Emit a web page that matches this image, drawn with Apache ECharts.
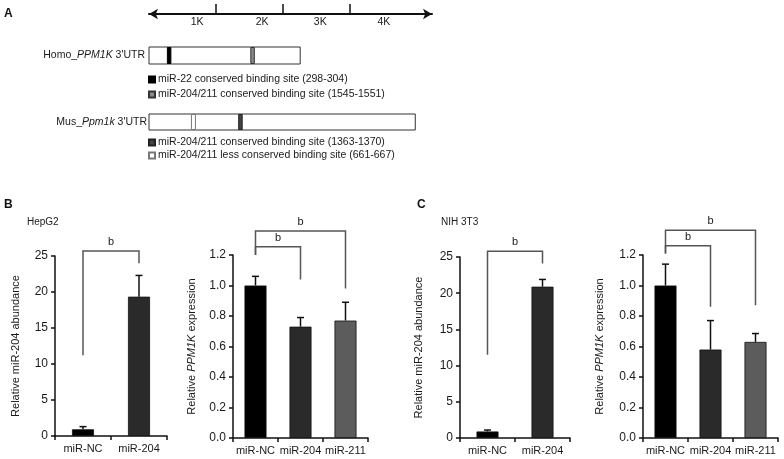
<!DOCTYPE html>
<html><head><meta charset="utf-8">
<script src="https://cdn.jsdelivr.net/npm/echarts@6/dist/echarts.min.js"></script>
<style>html,body{margin:0;padding:0;background:#fff}#c{width:784px;height:459px}</style>
</head><body><div id="c"></div>
<script>
// ---------- Panel A data ----------
const scaleMax = 4230;
const scaleTicks = [1000, 2000, 3000];
const scaleLabelPos = [720, 1690, 2560, 3510];
const scaleLabels = ['1K', '2K', '3K', '4K'];
const homoName = ["Homo_PPM1K 3'UTR"];
const homoGene = 'PPM1K';
const musName = ["Mus_Ppm1k 3'UTR"];
const musGene = 'Ppm1k';
const homoLen = 2260;
const musLen = 3980;
const homoSite22 = [298, 304];
const homoSite204 = [1545, 1551];
const musSite204 = [1363, 1370];
const musSiteLess = [661, 667];
const homoLegend = ['miR-22 conserved binding site (298-304)', 'miR-204/211 conserved binding site (1545-1551)'];
const musLegend = ['miR-204/211 conserved binding site (1363-1370)', 'miR-204/211 less conserved binding site (661-667)'];

// ---------- Panels B/C data ----------
const cats2 = ['miR-NC', 'miR-204'];
const cats3 = ['miR-NC', 'miR-204', 'miR-211'];
const hepAbund = [0.93, 19.35];
const hepAbundTop = [1.3, 22.3];
const hepExpr = [1.0, 0.73, 0.77];
const hepExprTop = [1.06, 0.79, 0.89];
const nihAbund = [0.9, 20.9];
const nihAbundTop = [1.1, 21.9];
const nihExpr = [1.0, 0.58, 0.63];
const nihExprTop = [1.14, 0.77, 0.685];
// brackets: [catFrom, catTo, topValue, legFromBottom, legToBottom]
const hepAbundBr = [[0, 1, 25.7, 11.2, 24.0]];
const hepExprBr = [[0, 2, 1.357, 1.2, 0.98], [0, 1, 1.254, 1.2, 1.04]];
const nihAbundBr = [[0, 1, 25.8, 11.5, 24.1]];
const nihExprBr = [[0, 2, 1.363, 1.21, 0.87], [0, 1, 1.26, 1.21, 0.86]];
const sigText = 'b';
const abundTicks = { min: 0, max: 25, interval: 5 };
const exprTicks = { min: 0, max: 1.2, interval: 0.2 };

const barColors = ['#000000', '#2a2a2a', '#5c5c5c'];
const FONT = 'Liberation Sans, Arial, sans-serif';
const TXT = '#1a1a1a';

function boxRender(params, api) {
  const p0 = api.coord([api.value(0), api.value(2)]);
  const p1 = api.coord([api.value(1), api.value(2)]);
  const h = api.size([0, 1])[1];
  return { type: 'rect', shape: { x: p0[0], y: p0[1] - h / 2, width: p1[0] - p0[0], height: h },
    style: { fill: '#fff', stroke: '#333', lineWidth: 1 } };
}
function siteRender(minW) {
  return function (params, api) {
    const a = api.coord([api.value(0), api.value(2)]);
    const b = api.coord([api.value(1), api.value(2)]);
    const h = api.size([0, 1])[1];
    const mid = (a[0] + b[0]) / 2;
    const w = Math.max(b[0] - a[0], minW);
    return { type: 'rect', shape: { x: mid - w / 2, y: a[1] - h / 2 + 0.5, width: w, height: h - 1 }, style: api.style() };
  };
}
function errRender(params, api) {
  const base = api.coord([api.value(0), api.value(1)]);
  const top = api.coord([api.value(0), api.value(2)]);
  const cw = 3.5;
  return { type: 'group', children: [
    { type: 'line', shape: { x1: base[0], y1: base[1], x2: top[0], y2: top[1] }, style: { stroke: '#111', lineWidth: 1.5 } },
    { type: 'line', shape: { x1: top[0] - cw, y1: top[1], x2: top[0] + cw, y2: top[1] }, style: { stroke: '#111', lineWidth: 1.5 } }
  ] };
}
function bracketRender(params, api) {
  const t1 = api.coord([api.value(0), api.value(2)]);
  const t2 = api.coord([api.value(1), api.value(2)]);
  const b1 = api.coord([api.value(0), api.value(3)]);
  const b2 = api.coord([api.value(1), api.value(4)]);
  return { type: 'group', children: [
    { type: 'polyline', shape: { points: [[b1[0], b1[1]], [t1[0], t1[1]], [t2[0], t2[1]], [b2[0], b2[1]]] },
      style: { stroke: '#555', lineWidth: 1.5, fill: null } },
    { type: 'text', x: (t1[0] + t2[0]) / 2, y: t1[1] - 9,
      style: { text: sigText, align: 'center', verticalAlign: 'middle', fontSize: 11, fontFamily: FONT, fill: TXT } }
  ] };
}

const grids = [
  { left: 149, top: 13, width: 283, height: 1 },   // 0 scale arrow
  { left: 149, top: 47, width: 283, height: 17 },  // 1 Homo
  { left: 149, top: 114, width: 283, height: 16 }, // 2 Mus
  { left: 55, top: 256, width: 112, height: 180 }, // 3 B1
  { left: 233, top: 255, width: 135, height: 183 },// 4 B2
  { left: 460, top: 257, width: 110, height: 181 },// 5 C1
  { left: 643, top: 255, width: 135, height: 183 } // 6 C2
];

function catAxis(gi, cats) {
  return { gridIndex: gi, type: 'category', data: cats,
    axisLine: { lineStyle: { color: '#111', width: 1.5 } },
    axisTick: { show: true, length: 4, lineStyle: { color: '#111', width: 1.5 } },
    axisLabel: { color: TXT, fontSize: 11, fontFamily: FONT, margin: 7, interval: 0, hideOverlap: false } };
}
function valAxis(gi, t, name, gap, dec) {
  return { gridIndex: gi, type: 'value', min: t.min, max: t.max, interval: t.interval,
    name: name, nameLocation: 'middle', nameGap: gap,
    nameTextStyle: { color: TXT, fontSize: 11, fontFamily: FONT, rich: { i: { fontStyle: 'italic', fontSize: 11, fontFamily: FONT, color: TXT } } },
    axisLine: { show: true, lineStyle: { color: '#111', width: 1.5 } },
    axisTick: { show: true, length: 4, lineStyle: { color: '#111', width: 1.5 } },
    splitLine: { show: false },
    axisLabel: { color: TXT, fontSize: 12, fontFamily: FONT, margin: 7,
      formatter: v => dec ? v.toFixed(1) : String(v) } };
}
function nameFmt(gene) { return v => v.replace(gene, '{i|' + gene + '}'); }

const exprName = '{n|Relative }{i|PPM1K}{n| expression}';

const option = {
  animation: false,
  textStyle: { fontFamily: FONT },
  title: [
    { text: 'A', left: 4, top: 8, padding: 0, textStyle: { fontSize: 12, fontWeight: 'bold', color: '#111', fontFamily: FONT } },
    { text: 'B', left: 4, top: 199, padding: 0, textStyle: { fontSize: 12, fontWeight: 'bold', color: '#111', fontFamily: FONT } },
    { text: 'C', left: 417, top: 199, padding: 0, textStyle: { fontSize: 12, fontWeight: 'bold', color: '#111', fontFamily: FONT } },
    { text: 'HepG2', left: 27, top: 217, padding: 0, textStyle: { fontSize: 10, fontWeight: 'normal', color: TXT, fontFamily: FONT } },
    { text: 'NIH 3T3', left: 441, top: 217, padding: 0, textStyle: { fontSize: 10, fontWeight: 'normal', color: TXT, fontFamily: FONT } }
  ],
  legend: [
    { data: homoLegend, orient: 'vertical', left: 148, top: 74, padding: 0, itemGap: 4, itemWidth: 6, itemHeight: 6,
      icon: 'rect', selectedMode: false, textStyle: { fontSize: 10.5, color: TXT, fontFamily: FONT, padding: [0, 0, 0, -2] } },
    { data: musLegend, orient: 'vertical', left: 148, top: 137, padding: 0, itemGap: 2, itemWidth: 6, itemHeight: 6,
      icon: 'rect', selectedMode: false, textStyle: { fontSize: 10.5, color: TXT, fontFamily: FONT, padding: [0, 0, 0, -2] } }
  ],
  grid: grids,
  xAxis: [
    { gridIndex: 0, type: 'value', min: 0, max: scaleMax, position: 'top',
      axisLine: { show: true, symbol: ['arrow', 'arrow'], symbolSize: [8, 9], lineStyle: { color: '#111', width: 2 } },
      axisTick: { show: true, customValues: scaleTicks, length: 10, inside: false, lineStyle: { color: '#111', width: 1.5 } },
      axisLabel: { show: true, customValues: scaleLabelPos, inside: true, margin: 4, fontSize: 10.5, color: TXT, fontFamily: FONT,
        formatter: v => scaleLabels[scaleLabelPos.indexOf(v)] },
      splitLine: { show: false } },
    { gridIndex: 1, type: 'value', min: 0, max: scaleMax, show: false },
    { gridIndex: 2, type: 'value', min: 0, max: scaleMax, show: false },
    catAxis(3, cats2), catAxis(4, cats3), catAxis(5, cats2), catAxis(6, cats3)
  ],
  yAxis: [
    { gridIndex: 0, type: 'value', show: false },
    { gridIndex: 1, type: 'category', data: homoName, axisLine: { show: false }, axisTick: { show: false },
      axisLabel: { margin: 4, fontSize: 10.5, color: TXT, fontFamily: FONT, formatter: nameFmt(homoGene),
        rich: { i: { fontStyle: 'italic', fontSize: 10.5, color: TXT, fontFamily: FONT } } } },
    { gridIndex: 2, type: 'category', data: musName, axisLine: { show: false }, axisTick: { show: false },
      axisLabel: { margin: 2, fontSize: 10.5, color: TXT, fontFamily: FONT, formatter: nameFmt(musGene),
        rich: { i: { fontStyle: 'italic', fontSize: 10.5, color: TXT, fontFamily: FONT } } } },
    valAxis(3, abundTicks, 'Relative miR-204 abundance', 34, false),
    valAxis(4, exprTicks, exprName, 36, true),
    valAxis(5, abundTicks, 'Relative miR-204 abundance', 36, false),
    valAxis(6, exprTicks, exprName, 38, true)
  ],
  series: []
};

// Panel A series
option.series.push(
  { type: 'custom', name: 'homoBox', xAxisIndex: 1, yAxisIndex: 1, renderItem: boxRender, encode: { x: [0, 1], y: 2 }, data: [[0, homoLen, 0]] },
  { type: 'custom', name: homoLegend[0], xAxisIndex: 1, yAxisIndex: 1, renderItem: siteRender(3.5), encode: { x: [0, 1], y: 2 },
    itemStyle: { color: '#000', borderColor: '#000', borderWidth: 1 }, data: [[homoSite22[0], homoSite22[1], 0]] },
  { type: 'custom', name: homoLegend[1], xAxisIndex: 1, yAxisIndex: 1, renderItem: siteRender(3.5), encode: { x: [0, 1], y: 2 },
    itemStyle: { color: '#8a8a8a', borderColor: '#333', borderWidth: 1 }, data: [[homoSite204[0], homoSite204[1], 0]] },
  { type: 'custom', name: 'musBox', xAxisIndex: 2, yAxisIndex: 2, renderItem: boxRender, encode: { x: [0, 1], y: 2 }, data: [[0, musLen, 0]] },
  { type: 'custom', name: musLegend[0], xAxisIndex: 2, yAxisIndex: 2, renderItem: siteRender(3.5), encode: { x: [0, 1], y: 2 },
    itemStyle: { color: '#444', borderColor: '#222', borderWidth: 1 }, data: [[musSite204[0], musSite204[1], 0]] },
  { type: 'custom', name: musLegend[1], xAxisIndex: 2, yAxisIndex: 2, renderItem: siteRender(4), encode: { x: [0, 1], y: 2 },
    itemStyle: { color: '#fff', borderColor: '#777', borderWidth: 1 }, data: [[musSiteLess[0], musSiteLess[1], 0]] }
);

function addPanel(ai, vals, tops, brs) {
  option.series.push(
    { type: 'bar', xAxisIndex: ai, yAxisIndex: ai, barWidth: 22, data: vals,
      itemStyle: { color: p => barColors[p.dataIndex], borderColor: '#111', borderWidth: 0.8 } },
    { type: 'custom', xAxisIndex: ai, yAxisIndex: ai, renderItem: errRender, encode: { x: 0, y: [1, 2] },
      data: vals.map((v, i) => [i, v, tops[i]]), z: 3 },
    { type: 'custom', xAxisIndex: ai, yAxisIndex: ai, renderItem: bracketRender, encode: { x: [0, 1], y: [2, 3, 4] },
      data: brs, z: 3 }
  );
}
addPanel(3, hepAbund, hepAbundTop, hepAbundBr);
addPanel(4, hepExpr, hepExprTop, hepExprBr);
addPanel(5, nihAbund, nihAbundTop, nihAbundBr);
addPanel(6, nihExpr, nihExprTop, nihExprBr);

[4, 6].forEach(k => {
  option.yAxis[k].nameTextStyle.rich.n = { fontSize: 11, fontFamily: FONT, color: TXT };
});

const chart = echarts.init(document.getElementById('c'), null, { renderer: 'canvas' });
chart.setOption(option);
</script>
</body></html>
